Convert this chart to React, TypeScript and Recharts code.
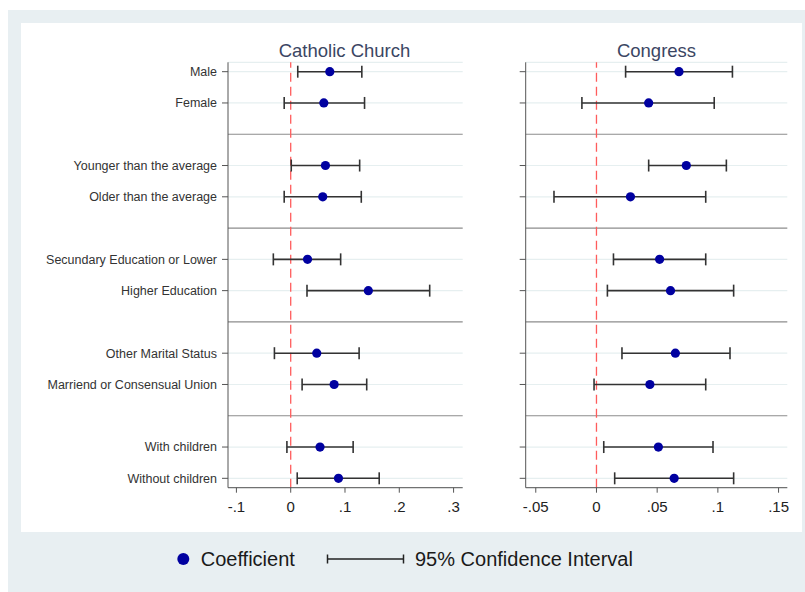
import React from 'react';
import {
  ScatterChart,
  Scatter,
  XAxis,
  YAxis,
  CartesianGrid,
  ReferenceLine,
  ErrorBar,
} from 'recharts';

// Row labels (index in the layout; separators sit at 2, 5, 8, 11)
const categories = [
  'Male',
  'Female',
  'Younger than the average',
  'Older than the average',
  'Secundary Education or Lower',
  'Higher Education',
  'Other Marital Status',
  'Marriend or Consensual Union',
  'With children',
  'Without children',
];
const rowPositions = [0, 1, 3, 4, 6, 7, 9, 10, 12, 13];
const separatorPositions = [2, 5, 8, 11];

// Catholic Church
const churchCoef = [0.072, 0.061, 0.064, 0.059, 0.031, 0.143, 0.048, 0.08, 0.054, 0.088];
const churchLow = [0.013, -0.012, 0.001, -0.012, -0.032, 0.03, -0.03, 0.021, -0.007, 0.012];
const churchHigh = [0.131, 0.136, 0.127, 0.13, 0.092, 0.256, 0.126, 0.14, 0.115, 0.163];

// Congress
const congressCoef = [0.068, 0.043, 0.074, 0.028, 0.052, 0.061, 0.065, 0.044, 0.051, 0.064];
const congressLow = [0.024, -0.012, 0.043, -0.035, 0.014, 0.009, 0.021, -0.002, 0.006, 0.015];
const congressHigh = [0.112, 0.097, 0.107, 0.09, 0.09, 0.113, 0.11, 0.09, 0.096, 0.113];

const churchTicks = [-0.1, 0, 0.1, 0.2, 0.3];
const churchTickLabels = ['-.1', '0', '.1', '.2', '.3'];
const congressTicks = [-0.05, 0, 0.05, 0.1, 0.15];
const congressTickLabels = ['-.05', '0', '.05', '.1', '.15'];

const FONT = '"Liberation Sans", Arial, sans-serif';
const AXIS = '#555555';
const DOT = '#0000a0';

function buildData(coef: number[], low: number[], high: number[]) {
  return coef.map((c, i) => ({
    x: c,
    y: rowPositions[i],
    err: [c - low[i], high[i] - c],
  }));
}

const churchData = buildData(churchCoef, churchLow, churchHigh);
const congressData = buildData(congressCoef, congressLow, congressHigh);

const Dot = (props: any) => {
  const { cx, cy } = props;
  if (cx == null || cy == null) return null;
  return <circle cx={cx} cy={cy} r={4.6} fill={DOT} />;
};

type PanelProps = {
  data: any[];
  width: number;
  yWidth: number;
  right: number;
  domain: [number, number];
  ticks: number[];
  tickLabels: string[];
  showLabels: boolean;
};

function Panel({ data, width, yWidth, right, domain, ticks, tickLabels, showLabels }: PanelProps) {
  return (
    <ScatterChart
      width={width}
      height={532}
      margin={{ top: 62.3, right, bottom: 14.3, left: 0 }}
    >
      <CartesianGrid vertical={false} stroke="#e6eff0" strokeWidth={1.2} />
      <XAxis
        type="number"
        dataKey="x"
        domain={domain}
        allowDataOverflow
        ticks={ticks}
        height={30}
        tickSize={5}
        tickMargin={9}
        stroke={AXIS}
        tickFormatter={(v: number) => {
          const i = ticks.findIndex((t) => Math.abs(t - v) < 1e-9);
          return i >= 0 ? tickLabels[i] : '';
        }}
        tick={{ fontSize: 15, fill: '#222', fontFamily: FONT }}
        interval={0}
      />
      <YAxis
        type="number"
        dataKey="y"
        domain={[-0.3, 13.3]}
        allowDataOverflow
        reversed
        ticks={rowPositions}
        width={yWidth}
        tickSize={6}
        tickMargin={5}
        stroke={AXIS}
        interval={0}
        tickFormatter={(v: number) => {
          if (!showLabels) return '';
          const i = rowPositions.indexOf(v);
          return i >= 0 ? categories[i] : '';
        }}
        tick={{ fontSize: 12.5, fill: '#333', fontFamily: FONT }}
      />
      {separatorPositions.map((p) => (
        <ReferenceLine key={p} y={p} stroke="#8c8c8c" strokeWidth={1.2} />
      ))}
      <ReferenceLine x={0} stroke="#ff5c5c" strokeWidth={1.3} strokeDasharray="9 5" />
      <Scatter data={data} shape={<Dot />} isAnimationActive={false}>
        <ErrorBar
          dataKey="err"
          direction="x"
          width={6}
          stroke="#333"
          strokeWidth={1.6}
          isAnimationActive={false}
        />
      </Scatter>
    </ScatterChart>
  );
}

export default function App() {
  return (
    <div
      style={{
        position: 'absolute',
        left: 0,
        top: 0,
        width: 805,
        height: 592,
        background: '#ffffff',
        overflow: 'hidden',
        fontFamily: FONT,
      }}
    >
      <div
        style={{
          position: 'absolute',
          left: 8,
          top: 10,
          width: 797,
          height: 582,
          background: '#e8eff2',
        }}
      />
      <div
        style={{
          position: 'absolute',
          left: 21,
          top: 23,
          width: 781,
          height: 509,
          background: '#ffffff',
        }}
      />
      <div style={{ position: 'absolute', left: 0, top: 0 }}>
        <Panel
          data={churchData}
          width={470}
          yWidth={228}
          right={7.3}
          domain={[-0.1155, 0.3168]}
          ticks={churchTicks}
          tickLabels={churchTickLabels}
          showLabels
        />
      </div>
      <div style={{ position: 'absolute', left: 470, top: 0 }}>
        <Panel
          data={congressData}
          width={335}
          yWidth={55.7}
          right={17.7}
          domain={[-0.0583, 0.1572]}
          ticks={congressTicks}
          tickLabels={congressTickLabels}
          showLabels={false}
        />
      </div>
      <svg
        width={805}
        height={592}
        style={{ position: 'absolute', left: 0, top: 0, pointerEvents: 'none' }}
      >
        <text x={344.5} y={56.7} textAnchor="middle" fontSize={18.5} fill="#3b4663" fontFamily={FONT}>
          Catholic Church
        </text>
        <text x={656.5} y={56.7} textAnchor="middle" fontSize={18.5} fill="#3b4663" fontFamily={FONT}>
          Congress
        </text>
        <circle cx={183.3} cy={559} r={6} fill={DOT} />
        <text x={200.7} y={566} fontSize={20} fill="#1a1a1a" fontFamily={FONT}>
          Coefficient
        </text>
        <line x1={327} y1={559} x2={404} y2={559} stroke="#222" strokeWidth={1.5} />
        <line x1={327.5} y1={554.5} x2={327.5} y2={563.5} stroke="#222" strokeWidth={1.5} />
        <line x1={403.5} y1={554.5} x2={403.5} y2={563.5} stroke="#222" strokeWidth={1.5} />
        <text x={415} y={566} fontSize={20} fill="#1a1a1a" fontFamily={FONT}>
          95% Confidence Interval
        </text>
      </svg>
    </div>
  );
}
